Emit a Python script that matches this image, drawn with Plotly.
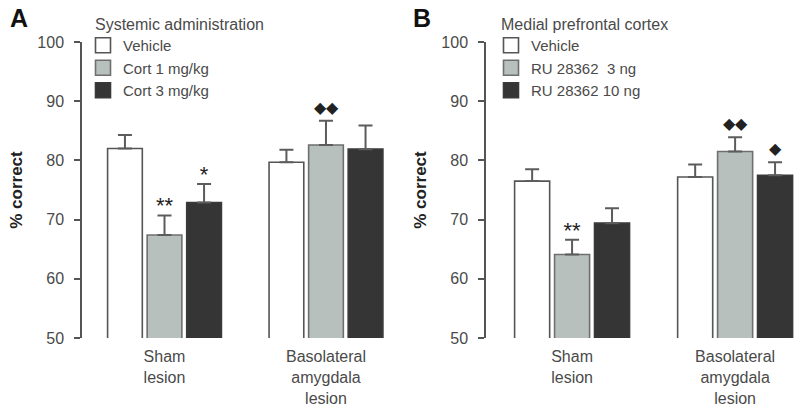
import numpy as np
import plotly.graph_objects as go

# ---------------- data ----------------
groups = ["Sham<br>lesion", "Basolateral<br>amygdala<br>lesion"]

a_title = "Systemic administration"
a_series = ["Vehicle", "Cort 1 mg/kg", "Cort 3 mg/kg"]
a_means = [[82.0, 79.7], [67.4, 82.6], [72.9, 81.9]]
a_errs = [[2.3, 2.1], [3.3, 4.1], [3.1, 4.0]]
a_sig = [["", ""], ["**", "◆◆"], ["*", ""]]

b_title = "Medial prefrontal cortex"
b_series = ["Vehicle", "RU 28362  3 ng", "RU 28362 10 ng"]
b_means = [[76.5, 77.2], [64.1, 81.5], [69.4, 77.5]]
b_errs = [[2.0, 2.1], [2.5, 2.4], [2.5, 2.2]]
b_sig = [["", ""], ["**", "◆◆"], ["", "◆"]]

fills = ["#ffffff", "#b7c0bc", "#353535"]
edges = ["#555555", "#6f6f6f", "#3a3a3a"]

FONT = "Liberation Sans, Arial, sans-serif"
TXT = "#4a4a4a"

fig = go.Figure()

pitch = 0.245
bw = 0.215
gx = np.arange(len(groups))

def add_panel(series, means, errs, sig, xa, ya, legend):
    for j, name in enumerate(series):
        xs = gx + (j - 1) * pitch
        fig.add_trace(go.Bar(
            x=xs, y=means[j], width=bw,
            name=name, showlegend=False,
            marker=dict(color=fills[j], line=dict(color=edges[j], width=1.6)),
            error_y=dict(type="data", array=errs[j], arrayminus=[0] * len(errs[j]),
                         symmetric=False, color="#5c5c5c", thickness=2, width=7),
            xaxis=xa, yaxis=ya,
        ))
        # legend swatch (larger square than the default bar swatch)
        fig.add_trace(go.Scatter(
            x=[None], y=[None], mode="markers", name=name, legend=legend,
            marker=dict(symbol="square", size=15, color=fills[j],
                        line=dict(color=edges[j], width=1.6)),
            xaxis=xa, yaxis=ya,
        ))
    for j in range(len(series)):
        xs = gx + (j - 1) * pitch
        tops = np.array(means[j]) + np.array(errs[j])
        for k in range(len(groups)):
            s = sig[j][k]
            if not s:
                continue
            is_star = "*" in s
            fig.add_trace(go.Scatter(
                x=[xs[k]], y=[tops[k] + (1.3 if is_star else 2.0)],
                mode="text", text=[s], showlegend=False,
                textfont=dict(family=FONT, size=22 if is_star else 16, color="#222222"),
                textposition="middle center",
                xaxis=xa, yaxis=ya, hoverinfo="skip",
            ))

add_panel(a_series, a_means, a_errs, a_sig, "x", "y", "legend")
add_panel(b_series, b_means, b_errs, b_sig, "x2", "y2", "legend2")

H = 413
y0 = (H - 338) / H
y1 = (H - 42) / H

xcommon = dict(
    tickmode="array", tickvals=list(gx), ticktext=groups,
    showline=False, ticks="outside", ticklen=4, tickcolor="rgba(0,0,0,0)",
    showgrid=False, zeroline=False, automargin=False,
    tickfont=dict(family=FONT, size=16, color=TXT),
)
ycommon = dict(
    range=[50, 100], tickvals=[50, 60, 70, 80, 90, 100],
    showline=True, linecolor="#555555", linewidth=1.5,
    ticks="outside", ticklen=6, tickcolor="#555555", tickwidth=1.5,
    ticklabelstandoff=7,
    showgrid=False, zeroline=False, automargin=False,
    tickfont=dict(family=FONT, size=16, color=TXT),
    title=dict(text="<b>% correct</b>", font=dict(family=FONT, size=17, color="#222222"), standoff=10),
)

legfont = dict(family=FONT, size=15, color=TXT)
titlefont = dict(family=FONT, size=16, color=TXT)
fig.update_layout(
    width=800, height=413,
    margin=dict(l=0, r=0, t=0, b=0),
    paper_bgcolor="white", plot_bgcolor="white",
    barmode="overlay",
    showlegend=True,
    xaxis=dict(domain=[82 / 800, 398 / 800], range=[-0.511, 1.446], anchor="y", **xcommon),
    yaxis=dict(domain=[y0, y1], anchor="x", **ycommon),
    xaxis2=dict(domain=[486 / 800, 1.0], range=[-0.528, 1.398], anchor="y2", **xcommon),
    yaxis2=dict(domain=[y0, y1], anchor="x2", **ycommon),
    legend=dict(x=83 / 800, y=(H - 29) / H, xanchor="left", yanchor="top",
                font=legfont, bgcolor="rgba(0,0,0,0)",
                tracegroupgap=0, itemwidth=30),
    legend2=dict(x=491 / 800, y=(H - 29) / H, xanchor="left", yanchor="top",
                 font=legfont, bgcolor="rgba(0,0,0,0)",
                 tracegroupgap=0, itemwidth=30),
    annotations=[
        dict(text="<b>A</b>", x=8 / 800, y=(H - 18) / H, xref="paper", yref="paper",
             xanchor="left", yanchor="middle", showarrow=False,
             font=dict(family=FONT, size=25, color="#111111")),
        dict(text="<b>B</b>", x=411 / 800, y=(H - 18) / H, xref="paper", yref="paper",
             xanchor="left", yanchor="middle", showarrow=False,
             font=dict(family=FONT, size=25, color="#111111")),
        dict(text=a_title, x=93 / 800, y=(H - 25) / H, xref="paper", yref="paper",
             xanchor="left", yanchor="middle", showarrow=False, font=titlefont),
        dict(text=b_title, x=499 / 800, y=(H - 25) / H, xref="paper", yref="paper",
             xanchor="left", yanchor="middle", showarrow=False, font=titlefont),
    ],
)

fig.write_html("out.html", config={"displayModeBar": False},
               post_script="document.body.style.margin='0';")
